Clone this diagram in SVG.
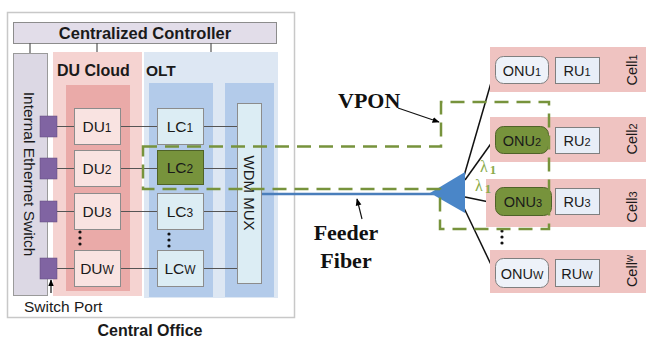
<svg xmlns="http://www.w3.org/2000/svg" width="646" height="338" viewBox="0 0 646 338">
<defs>
<marker id="ah" viewBox="0 0 10 10" refX="9" refY="5" markerWidth="6" markerHeight="6" orient="auto-start-reverse"><path d="M0,1 L10,5 L0,9 Z" fill="#000"/></marker>
<style>
.s{font-family:"Liberation Sans",Arial,sans-serif;fill:#1a1a1a}
.b{font-weight:bold}
.t{font-family:"Liberation Serif","Times New Roman",serif;font-weight:bold;font-size:22px;fill:#111}
.du{fill:#f9e3e1;stroke:#8c8c8c;stroke-width:1}
.lc{fill:#dcedf4;stroke:#8c8c8c;stroke-width:1}
.gr{fill:#77933c;stroke:#4f6228;stroke-width:1}
.ru{fill:#e8eef7;stroke:#7f7f7f;stroke-width:1}
.cell{fill:#efc3c1}
.port{fill:#8064a2;stroke:#5f4a7c;stroke-width:0.5}
.ln{stroke:#555;stroke-width:1.2;fill:none}
.bl{stroke:#111;stroke-width:1.5;fill:none}
.dot{fill:#111}
.lam{font-family:"Liberation Serif",serif;font-size:16px;fill:#8aab4a}
</style>
</defs>
<rect width="646" height="338" fill="#fff"/>
<g id="central-office">
<rect x="7.5" y="12.5" width="287" height="305" fill="#fff" stroke="#c8c8c8" stroke-width="1.5"/>
<text class="s b" x="150" y="336" font-size="16" text-anchor="middle">Central Office</text>
</g>
<g id="controller">
<rect x="13.5" y="22.5" width="263" height="21" fill="#e2dde9" stroke="#8c8c8c" stroke-width="1"/>
<text class="s b" x="145" y="38.5" font-size="16.5" text-anchor="middle">Centralized Controller</text>
</g>
<g id="ethernet-switch">
<rect x="13.5" y="53.5" width="34" height="242" fill="#dcd8e4" stroke="#9a9a9a" stroke-width="1"/>
<text class="s" transform="translate(24,174) rotate(90)" font-size="15.5" text-anchor="middle">Internal Ethernet Switch</text>
</g>
<g id="du-cloud">
<rect x="53" y="52" width="89" height="244" fill="#f5d3d1"/>
<rect x="66" y="85" width="64" height="206" fill="#eaaaa8"/>
<text class="s b" x="57" y="76" font-size="16">DU Cloud</text>
</g>
<g id="olt">
<rect x="144" y="52" width="134" height="246" fill="#dde7f3"/>
<rect x="149" y="83" width="64" height="214" fill="#b3cbea"/>
<rect x="225" y="83" width="49" height="214" fill="#b3cbea"/>
<text class="s b" x="146" y="76" font-size="15.5">OLT</text>
</g>
<g id="connectors">
<line class="ln" x1="30" y1="43" x2="30" y2="53"/>
<line class="ln" x1="97" y1="43" x2="97" y2="52"/>
<line class="ln" x1="211" y1="43" x2="211" y2="52"/>
<path class="ln" d="M57,126.5H74M120,126.5H157M203,126.5H237"/>
<path class="ln" d="M57,168.5H74M120,168.5H157M203,168.5H237"/>
<path class="ln" d="M57,211.5H74M120,211.5H157M203,211.5H237"/>
<path class="ln" d="M57,268.5H74M120,268.5H157M203,268.5H237"/>
<line x1="51" y1="293" x2="51" y2="280" stroke="#111" stroke-width="1.2" marker-end="url(#ah)"/>
<line x1="261" y1="194" x2="434" y2="194" stroke="#4a7ebb" stroke-width="2.5"/>
<path class="bl" d="M464,176 L495,69"/>
<path class="bl" d="M465,180 L495,138"/>
<path class="bl" d="M465,197 L494,203"/>
<path class="bl" d="M464,208 L496,275"/>
<line x1="398" y1="108" x2="439" y2="122" stroke="#111" stroke-width="1.2" marker-end="url(#ah)"/>
<line x1="362" y1="219" x2="357" y2="199" stroke="#111" stroke-width="1.2" marker-end="url(#ah)"/>
</g>
<g id="switch-ports">
<rect class="port" x="40" y="116" width="17" height="21"/>
<rect class="port" x="40" y="158" width="17" height="21"/>
<rect class="port" x="40" y="201" width="17" height="21"/>
<rect class="port" x="40" y="258" width="17" height="21"/>
<text class="s" x="24" y="312" font-size="15.5">Switch Port</text>
</g>
<g id="du1"><rect class="du" x="74.5" y="108.5" width="46" height="36"/><text class="s" x="97" y="132" font-size="15.5" text-anchor="middle">DU<tspan font-size="12">1</tspan></text></g>
<g id="du2"><rect class="du" x="74.5" y="150.5" width="46" height="36"/><text class="s" x="97" y="174" font-size="15.5" text-anchor="middle">DU<tspan font-size="12">2</tspan></text></g>
<g id="du3"><rect class="du" x="74.5" y="193.5" width="46" height="36"/><text class="s" x="97" y="217" font-size="15.5" text-anchor="middle">DU<tspan font-size="12">3</tspan></text></g>
<g id="duw"><rect class="du" x="74.5" y="250.5" width="46" height="36"/><text class="s" x="97" y="274" font-size="15.5" text-anchor="middle">DU<tspan font-size="12">W</tspan></text></g>
<g id="du-dots"><circle class="dot" cx="80" cy="232" r="1.6"/><circle class="dot" cx="80" cy="238" r="1.6"/><circle class="dot" cx="80" cy="244" r="1.6"/></g>
<g id="lc1"><rect class="lc" x="157.5" y="108.5" width="46" height="36"/><text class="s" x="180" y="132" font-size="15.5" text-anchor="middle">LC<tspan font-size="12">1</tspan></text></g>
<g id="lc2"><rect class="gr" x="157.5" y="150.5" width="46" height="34"/><text class="s" x="180" y="173" font-size="15.5" text-anchor="middle">LC<tspan font-size="12">2</tspan></text></g>
<g id="lc3"><rect class="lc" x="157.5" y="193.5" width="46" height="36"/><text class="s" x="180" y="217" font-size="15.5" text-anchor="middle">LC<tspan font-size="12">3</tspan></text></g>
<g id="lcw"><rect class="lc" x="157.5" y="250.5" width="46" height="36"/><text class="s" x="180" y="274" font-size="15.5" text-anchor="middle">LC<tspan font-size="12">W</tspan></text></g>
<g id="lc-dots"><circle class="dot" cx="169" cy="234" r="1.6"/><circle class="dot" cx="169" cy="240" r="1.6"/><circle class="dot" cx="169" cy="246" r="1.6"/></g>
<g id="wdm-mux">
<rect x="237.5" y="103.5" width="24" height="180" fill="#dcedf4" stroke="#8c8c8c" stroke-width="1"/>
<text class="s" transform="translate(244,193) rotate(90)" font-size="15" text-anchor="middle">WDM MUX</text>
</g>
<g id="cell1">
<rect class="cell" x="490" y="47" width="156" height="45"/>
<rect x="495.5" y="56.5" width="53" height="27" rx="8" fill="#eef2f9" stroke="#7f7f7f"/>
<text class="s" x="522" y="75.5" font-size="14.5" text-anchor="middle">ONU<tspan font-size="11">1</tspan></text>
<rect class="ru" x="555.5" y="57.5" width="44" height="26"/>
<text class="s" x="577" y="75.5" font-size="14.5" text-anchor="middle">RU<tspan font-size="11">1</tspan></text>
<text class="s" transform="translate(637,70) rotate(-90)" font-size="14.5" text-anchor="middle">Cell<tspan font-size="11">1</tspan></text>
</g>
<g id="cell2">
<rect class="cell" x="490" y="117" width="156" height="45"/>
<rect class="gr" x="495.5" y="126.5" width="53" height="27" rx="8"/>
<text class="s" x="522" y="145.5" font-size="14.5" text-anchor="middle">ONU<tspan font-size="11">2</tspan></text>
<rect class="ru" x="555.5" y="127.5" width="44" height="26"/>
<text class="s" x="577" y="145.5" font-size="14.5" text-anchor="middle">RU<tspan font-size="11">2</tspan></text>
<text class="s" transform="translate(637,139) rotate(-90)" font-size="14.5" text-anchor="middle">Cell<tspan font-size="11">2</tspan></text>
</g>
<g id="cell3">
<rect class="cell" x="486" y="179" width="160" height="48"/>
<rect class="gr" x="495.5" y="187.5" width="56" height="28" rx="8"/>
<text class="s" x="523" y="206.5" font-size="14.5" text-anchor="middle">ONU<tspan font-size="11">3</tspan></text>
<rect class="ru" x="555.5" y="188.5" width="44" height="26"/>
<text class="s" x="577" y="206.5" font-size="14.5" text-anchor="middle">RU<tspan font-size="11">3</tspan></text>
<text class="s" transform="translate(637,207) rotate(-90)" font-size="14.5" text-anchor="middle">Cell<tspan font-size="11">3</tspan></text>
</g>
<g id="cellw">
<rect class="cell" x="490" y="250" width="156" height="43"/>
<rect x="495.5" y="258.5" width="53" height="29" rx="8" fill="#eef2f9" stroke="#7f7f7f"/>
<text class="s" x="522" y="278.5" font-size="14.5" text-anchor="middle">ONU<tspan font-size="11">W</tspan></text>
<rect class="ru" x="555.5" y="259.5" width="44" height="27"/>
<text class="s" x="577" y="278.5" font-size="14.5" text-anchor="middle">RU<tspan font-size="11">W</tspan></text>
<text class="s" transform="translate(637,271) rotate(-90)" font-size="14.5" text-anchor="middle">Cell<tspan font-size="10" dy="-4">w</tspan></text>
</g>
<g id="onu-dots"><circle class="dot" cx="502" cy="231" r="1.6"/><circle class="dot" cx="502" cy="237" r="1.6"/><circle class="dot" cx="502" cy="243" r="1.6"/></g>
<g id="splitter">
<polygon points="430,193 465,172 465,213" fill="#4a86c8"/>
<text class="lam" x="480" y="172">λ<tspan font-size="13" font-weight="bold" dx="2" dy="2">1</tspan></text>
<text class="lam" x="475" y="191">λ<tspan font-size="13" font-weight="bold" dx="2" dy="2">1</tspan></text>
</g>
<g id="vpon">
<path d="M143,146.5 H441 V102 H549 V229 H440 V189 H143 Z" fill="none" stroke="#77933c" stroke-width="2.5" stroke-dasharray="14,8"/>
<text class="t" x="338" y="108">VPON</text>
</g>
<g id="feeder-label">
<text class="t" x="346" y="240" text-anchor="middle">Feeder</text>
<text class="t" x="346" y="268" text-anchor="middle">Fiber</text>
</g>
</svg>
